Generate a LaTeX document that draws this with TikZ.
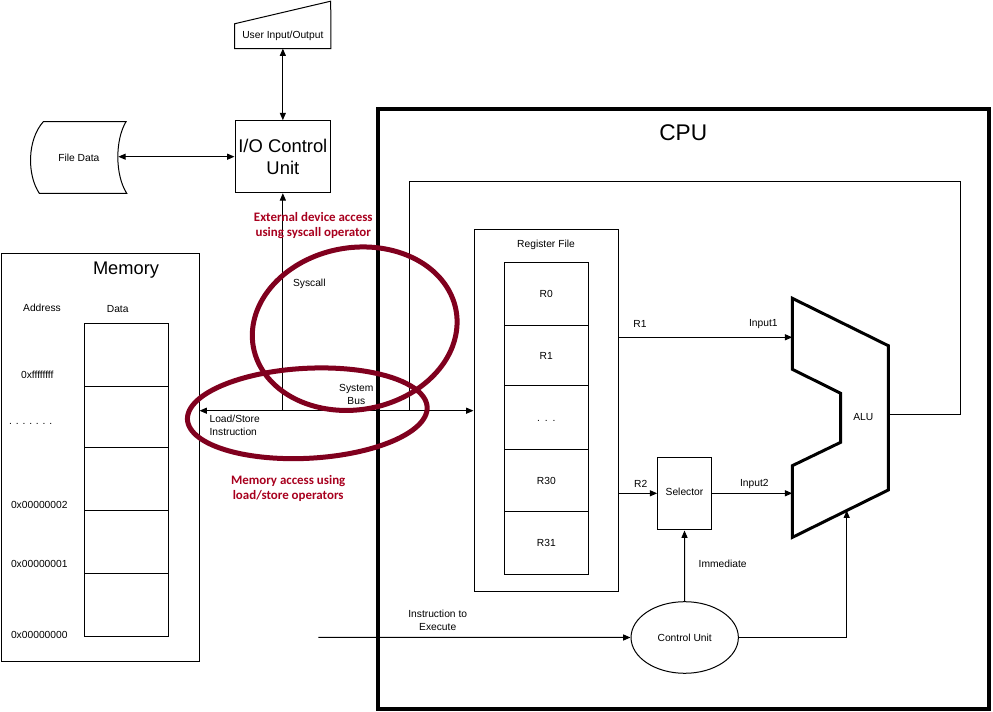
\documentclass[tikz,border=0pt]{standalone}
\usepackage{fontspec}
\setmainfont{Liberation Sans}
\newfontfamily\redfont{Carlito}
\usetikzlibrary{arrows.meta,fit,shapes.geometric}
\definecolor{ellred}{RGB}{128,0,30}
\definecolor{txtred}{RGB}{168,0,30}
\begin{document}
\begin{tikzpicture}[x=0.75pt,y=-0.75pt,
  every node/.style={font=\fontsize{7.7}{9.75}\selectfont, inner sep=0pt},
  thinline/.style={line width=0.75pt},
  box/.style={draw, line width=0.75pt, inner sep=0pt, rectangle},
  arr/.style={thinline, -{Triangle[length=5.5pt,width=4.5pt]}},
  biarr/.style={thinline, {Triangle[length=5.5pt,width=4.5pt]}-{Triangle[length=5.5pt,width=4.5pt]}},
  lbl/.style={align=center},
  redlbl/.style={align=center, text=txtred, font=\redfont\bfseries\fontsize{9.7}{11.25}\selectfont},
  hilite/.style={draw=ellred, line width=3.75pt}
]
\useasboundingbox (0,0) rectangle (993,712);

% ---- User Input/Output
\node[fit={(235,24) (330.7,48.3)}] (uio) {};
\node (uiot) at (uio.center) {User Input/Output};
\draw[thinline] (uio.south west) -- (uio.north west) -- (330.7,1.2) -- (uio.south east) -- cycle;

% ---- I/O Control Unit
\node[box, fit={(235,120.7) (330.7,192.7)}] (io) {};
\node[align=center, font=\fontsize{13.8}{16.3}\selectfont] (iot) at (io.center) {I/O Control\\Unit};

% ---- File Data
\node[fit={(31,121.7) (126.7,193.3)}] (fd) {};
\node (fdt) at (fd.center) {File Data};
\draw[thinline] (43.3,121.7) -- (126,121.7) .. controls (115,140) and (115,175) .. (126.7,193.3)
  -- (39.3,193.3) .. controls (27,175) and (27,140) .. (43.3,121.7) -- cycle;
\coordinate (fdr) at (118.3,156.7);

\draw[biarr] (fdr) -- (fdr -| io.west);
\draw[biarr] (uio.south) -- (io.north);

% ---- Memory
\node[box, fit={(1,253.3) (199,662)}] (mem) {};
\node[font=\fontsize{13.7}{16}\selectfont] (memt) at (126,270) {Memory};
\node (addr) at (42,308.3) {Address};
\node (datat) at (117.7,309.3) {Data};
\node[box, fit={(84.3,324) (168.7,386.7)}] (m1) {};
\node[box, fit={(84.3,386.7) (168.7,448)}] (m2) {};
\node[box, fit={(84.3,448) (168.7,511)}] (m3) {};
\node[box, fit={(84.3,511) (168.7,573.3)}] (m4) {};
\node[box, fit={(84.3,573.3) (168.7,636.7)}] (m5) {};
\node (a1) at (37.3,375) {0xffffffff};
\node (a2) at (30.7,424) {.\kern2.9pt.\kern2.9pt.\kern2.9pt.\kern2.9pt.\kern2.9pt.\kern2.9pt.};
\node (a3) at (39.3,505) {0x00000002};
\node (a4) at (39.3,564) {0x00000001};
\node (a5) at (39.3,635) {0x00000000};

% ---- CPU
\node[draw, line width=3pt, fit={(378,109) (989,709)}] (cpu) {};
\node[font=\fontsize{17}{20}\selectfont] (cput) at (683.3,132.3) {CPU};

% ---- Register file
\node[box, fit={(474,230) (618.7,591.5)}] (rf) {};
\node (rft) at (546,244.7) {Register File};
\node[box, fit={(504.3,262.3) (588.3,325.3)}] (r0) {};
\node[box, fit={(504.3,325.3) (588.3,386)}] (r1) {};
\node[box, fit={(504.3,386) (588.3,449.3)}] (rd) {};
\node[box, fit={(504.3,449.3) (588.3,512)}] (r30) {};
\node[box, fit={(504.3,512) (588.3,574.3)}] (r31) {};
\node (r0t) at (r0.center) {R0};
\node (r1t) at (r1.center) {R1};
\node (rdt) at (546.3,421) {.\kern3.6pt.\kern3.6pt.};
\node (r30t) at (r30.center) {R30};
\node (r31t) at (r31.center) {R31};

% ---- ALU
\draw[line width=2.25pt, line join=miter] (792.3,298.3) -- (888.3,345.7) -- (888.3,490) -- (792.3,537.4)
  -- (792.3,465.7) -- (840.7,442.3) -- (840.7,393.3) -- (792.3,369.3) -- cycle;
\node (alu) at (863.3,417.3) {ALU};
\coordinate (in1) at (792.3,337.3);
\coordinate (in2) at (792.3,493.3);
\coordinate (aluout) at (888.3,415);
\coordinate (alubot) at (846.7,510.5);

% ---- Selector and Control Unit
\node[box, fit={(657.7,457.3) (711.3,530)}] (sel) {};
\node (selt) at (684.5,492.3) {Selector};
\node[draw, thinline, ellipse, minimum width=80.5pt, minimum height=53.7pt] (cu) at (684.7,637.5) {Control Unit};

% ---- connectors
\coordinate (busy) at (300,410.7);
\coordinate (fbr) at (960,181.7);
\coordinate (fbl) at (409,181.7);
\coordinate (r2y) at (640,493.3);
\coordinate (instr) at (318.3,637.3);

\draw[biarr] (mem.east |- busy) -- (rf.west |- busy);
\draw[arr] (io.south |- busy) -- (io.south);
\draw[thinline] (aluout) -| (fbr) -- (fbl) -- (fbl |- busy);
\draw[arr] (rf.east |- in1) -- (in1);
\draw[arr] (rf.east |- r2y) -- (sel.west |- r2y);
\draw[arr] (sel.east |- r2y) -- (in2);
\draw[arr] (instr) -- (cu.west);
\draw[arr] (cu.north) -- (sel.south);
\draw[arr] (cu.east) -| (alubot);

% ---- labels
\node (syscall) at (309.3,284) {Syscall};
\node[lbl] (sysbus) at (356.3,394.7) {System\\Bus};
\node[align=left, anchor=west] (ls) at (209.3,425.8) {Load/Store\\Instruction};
\node[lbl] (ins) at (437.7,620.7) {Instruction to\\Execute};
\node (imm) at (722.7,564) {Immediate};
\node (r1l) at (640,324.3) {R1};
\node (in1l) at (763.3,324.3) {Input1};
\node (r2l) at (640.7,484.3) {R2};
\node (in2l) at (754.3,484.3) {Input2};

% ---- highlight ellipses
\draw[hilite] plot[domain=0:357, samples=120, smooth cycle, variable=\s]
  ({354.7 + 103*cos(\s)*cos(10) - 81*sin(\s)*sin(10)}, {328.7 - (103*cos(\s)*sin(10) + 81*sin(\s)*cos(10))});
\draw[hilite] plot[domain=0:357, samples=120, smooth cycle, variable=\s]
  ({307.3 + 120*cos(\s)*cos(3) - 45*sin(\s)*sin(3)}, {413.3 - (120*cos(\s)*sin(3) + 45*sin(\s)*cos(3))});

\node[redlbl] (ext) at (313.3,225.8) {External device access\\using syscall operator};
\node[redlbl] (memacc) at (288.2,488.2) {Memory access using\\load/store operators};
\end{tikzpicture}
\end{document}
